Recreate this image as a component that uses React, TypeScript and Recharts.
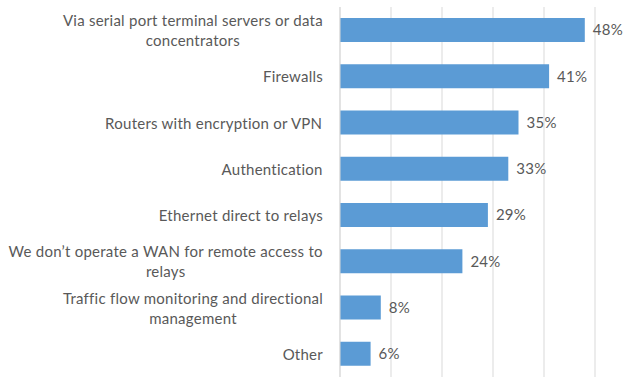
import { Bar, BarChart, CartesianGrid, LabelList, XAxis, YAxis } from "recharts";

const categories = [
  "Via serial port terminal servers or data concentrators",
  "Firewalls",
  "Routers with encryption or VPN",
  "Authentication",
  "Ethernet direct to relays",
  "We don’t operate a WAN for remote access to relays",
  "Traffic flow monitoring and directional management",
  "Other",
];
const shares = [48, 41, 35, 33, 29, 24, 8, 6];
const xTicks = [0, 10, 20, 30, 40, 50];

const BAR_COLOR = "#5B9BD5";
const TEXT_COLOR = "#595959";
const GRID_COLOR = "#d9d9d9";
const FONT = "Lato, 'Open Sans', sans-serif";
const FONT_SIZE = 15;
const SPACING = 0.25;
const WRAP_WIDTH = 318;

const data = categories.map((name, i) => ({ name, value: shares[i] }));

let ctx: CanvasRenderingContext2D | null = null;
function measure(s: string) {
  if (!ctx) ctx = document.createElement("canvas").getContext("2d");
  if (!ctx) return s.length * 7;
  ctx.font = `${FONT_SIZE}px Lato`;
  return ctx.measureText(s).width + s.length * SPACING;
}

function wrap(text: string) {
  const words = text.split(" ");
  const lines: string[] = [];
  let cur = "";
  for (const w of words) {
    const next = cur ? cur + " " + w : w;
    if (cur && measure(next) > WRAP_WIDTH) {
      lines.push(cur);
      cur = w;
    } else cur = next;
  }
  if (cur) lines.push(cur);
  return lines;
}

function CategoryTick(props: any) {
  const { x, y, payload } = props;
  const lines = wrap(payload.value);
  const widest = Math.max(...lines.map(measure));
  const cx = x - widest / 2;
  const lh = 20;
  const top = y - ((lines.length - 1) * lh) / 2;
  return (
    <text
      textAnchor="middle"
      fill={TEXT_COLOR}
      fontSize={FONT_SIZE}
      fontFamily={FONT}
      letterSpacing={SPACING}
      dominantBaseline="central"
    >
      {lines.map((l, i) => (
        <tspan key={i} x={cx} y={top + i * lh}>
          {l}
        </tspan>
      ))}
    </text>
  );
}

export default function App() {
  return (
    <div style={{ position: "absolute", left: 0, top: 0, width: 638, height: 386, background: "#fff" }}>
      <BarChart
        width={638}
        height={386}
        data={data}
        layout="vertical"
        margin={{ top: 7, right: 43, bottom: 9, left: 0 }}
      >
        <CartesianGrid horizontal={false} stroke={GRID_COLOR} />
        <XAxis type="number" domain={[0, 50]} ticks={xTicks} hide />
        <YAxis
          type="category"
          dataKey="name"
          width={340}
          tick={<CategoryTick />}
          tickLine={false}
          tickSize={0}
          tickMargin={17}
          axisLine={{ stroke: GRID_COLOR }}
        />
        <Bar dataKey="value" fill={BAR_COLOR} barSize={24} isAnimationActive={false}>
          <LabelList
            dataKey="value"
            position="right"
            offset={8}
            formatter={(v: any) => `${v}%`}
            style={{ fontSize: FONT_SIZE, fill: TEXT_COLOR, fontFamily: FONT, letterSpacing: SPACING }}
          />
        </Bar>
      </BarChart>
    </div>
  );
}
